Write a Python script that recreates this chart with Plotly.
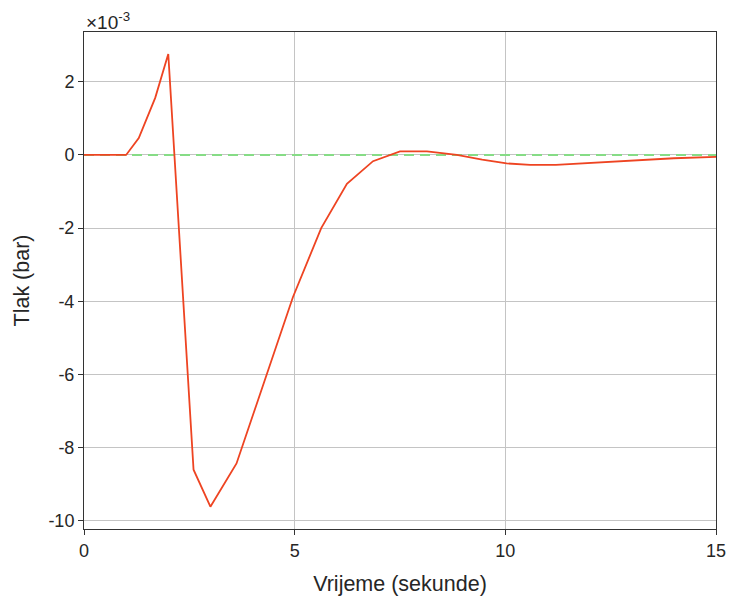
import plotly.graph_objects as go

# time (s)
time_s = [0, 1.0, 1.3, 1.69, 2.0, 2.6, 3.0, 3.62, 4.96, 5.63, 6.24, 6.86, 7.5, 8.14, 8.85, 9.45, 10.03, 10.59, 11.2, 12.1, 13.03, 14.0, 15.0]
# pressure in units of 1e-3 bar
pressure_e3 = [0, 0, 0.46, 1.56, 2.76, -8.6, -9.61, -8.43, -3.88, -2.0, -0.79, -0.17, 0.1, 0.1, 0.0, -0.13, -0.23, -0.27, -0.27, -0.21, -0.14, -0.09, -0.05]
ref_x = [0, 15]
ref_y = [0, 0]

x_ticks = [0, 5, 10, 15]
x_tick_labels = ["0", "5", "10", "15"]
y_ticks = [2, 0, -2, -4, -6, -8, -10]
y_tick_labels = ["2", "0", "-2", "-4", "-6", "-8", "-10"]

txt = "#262626"

fig = go.Figure()
fig.add_trace(go.Scatter(x=ref_x, y=ref_y, mode="lines",
                         line=dict(color="#86dc86", width=2, dash="10px,6px"), showlegend=False))
fig.add_trace(go.Scatter(x=time_s, y=pressure_e3, mode="lines",
                         line=dict(color="#ee4422", width=1.8), showlegend=False))

axis_common = dict(showline=True, linecolor="#333333", linewidth=1, mirror=True,
                   showgrid=True, gridcolor="#c4c4c4", gridwidth=1,
                   ticks="outside", ticklen=5, tickcolor="#333333",
                   zeroline=False, automargin=False,
                   tickfont=dict(size=18, color=txt))

fig.update_xaxes(range=[0, 15], tickvals=x_ticks, ticktext=x_tick_labels, **axis_common,
                 title=dict(text="Vrijeme (sekunde)", font=dict(size=21.5, color=txt), standoff=16))
fig.update_yaxes(range=[-10.22, 3.36], tickvals=y_ticks, ticktext=y_tick_labels, **axis_common,
                 title=dict(text="Tlak (bar)", font=dict(size=21.5, color=txt), standoff=12))

fig.add_annotation(x=0, y=1, xref="paper", yref="paper", xanchor="left", yanchor="bottom",
                   text="×10<sup>-3</sup>", showarrow=False, font=dict(size=19, color=txt), yshift=-3)

fig.update_layout(width=731, height=600, plot_bgcolor="white", paper_bgcolor="white",
                  margin=dict(l=84, r=15, t=32, b=71),
                  font=dict(family="Liberation Sans, Arial, sans-serif"))

fig.write_html("out.html", config={"displayModeBar": False},
               post_script="document.body.style.margin='0';document.body.style.overflow='hidden';")
